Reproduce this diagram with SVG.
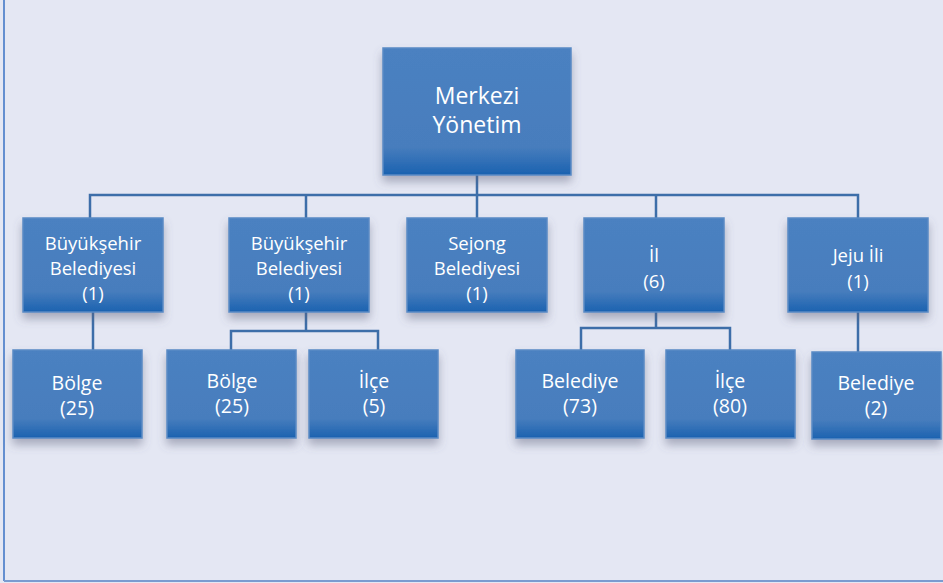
<svg xmlns="http://www.w3.org/2000/svg" width="943" height="583" viewBox="0 0 943 583">
<defs>
<linearGradient id="g" x1="0" y1="0" x2="0" y2="1">
<stop offset="0" stop-color="#4b81c1"/>
<stop offset="0.78" stop-color="#477dbd"/>
<stop offset="1" stop-color="#1b62b0"/>
</linearGradient>
<filter id="sh" x="-20%" y="-20%" width="140%" height="150%">
<feDropShadow dx="0" dy="6" stdDeviation="5" flood-color="#5a5f78" flood-opacity="0.45"/>
</filter>
<style>
.box{fill:url(#g);stroke:#5a8ac5;stroke-width:1.5;filter:url(#sh)}
.t{font-family:"Open Sans","Noto Sans",sans-serif;font-size:18.5px;fill:#ffffff;text-anchor:middle}
.big{font-size:23px}
.s{font-size:19.5px}
.c{fill:none;stroke:#3d6ea9;stroke-width:2.5}
</style>
</defs>
<rect x="0" y="0" width="943" height="583" fill="#e4e7f3"/>
<line x1="4" y1="0" x2="4" y2="581" stroke="#3a72c4" stroke-width="1.5"/>
<line x1="4" y1="581" x2="943" y2="581" stroke="#7a9bd0" stroke-width="2"/>
<g id="connectors">
<path class="c" d="M477 175V195M90 218V195H858V218M306 195V218M477 195V218M656 195V218"/>
<path class="c" d="M93 312V350"/>
<path class="c" d="M306 312V331M231 350V331H378V350"/>
<path class="c" d="M656 312V328M581 350V328H730V350"/>
<path class="c" d="M858 312V352"/>
</g>
<g id="merkezi"><rect class="box" x="383" y="48" width="188" height="127"/><text class="t big" x="477" y="104">Merkezi</text><text class="t big" x="477" y="133">Yönetim</text></g>
<g id="buyuksehir1"><rect class="box" x="23" y="218" width="140" height="94"/><text class="t" x="93" y="250">Büyükşehir</text><text class="t" x="93" y="275">Belediyesi</text><text class="t" x="93" y="300">(1)</text></g>
<g id="buyuksehir2"><rect class="box" x="229" y="218" width="140" height="94"/><text class="t" x="299" y="250">Büyükşehir</text><text class="t" x="299" y="275">Belediyesi</text><text class="t" x="299" y="300">(1)</text></g>
<g id="sejong"><rect class="box" x="407" y="218" width="140" height="94"/><text class="t" x="477" y="250">Sejong</text><text class="t" x="477" y="275">Belediyesi</text><text class="t" x="477" y="300">(1)</text></g>
<g id="il"><rect class="box" x="584" y="218" width="140" height="94"/><text class="t" x="654" y="262">İl</text><text class="t" x="654" y="288">(6)</text></g>
<g id="jeju"><rect class="box" x="788" y="218" width="140" height="94"/><text class="t" x="858" y="262">Jeju İli</text><text class="t" x="858" y="288">(1)</text></g>
<g id="bolge1"><rect class="box" x="13" y="350" width="129" height="88"/><text class="t s" x="77" y="390">Bölge</text><text class="t s" x="77" y="415">(25)</text></g>
<g id="bolge2"><rect class="box" x="167" y="350" width="129" height="88"/><text class="t s" x="232" y="388">Bölge</text><text class="t s" x="232" y="413">(25)</text></g>
<g id="ilce5"><rect class="box" x="309" y="350" width="129" height="88"/><text class="t s" x="374" y="388">İlçe</text><text class="t s" x="374" y="413">(5)</text></g>
<g id="belediye73"><rect class="box" x="516" y="350" width="128" height="88"/><text class="t s" x="580" y="388">Belediye</text><text class="t s" x="580" y="413">(73)</text></g>
<g id="ilce80"><rect class="box" x="666" y="350" width="129" height="88"/><text class="t s" x="730" y="388">İlçe</text><text class="t s" x="730" y="413">(80)</text></g>
<g id="belediye2"><rect class="box" x="812" y="352" width="129" height="87"/><text class="t s" x="876" y="390">Belediye</text><text class="t s" x="876" y="415">(2)</text></g>
</svg>
